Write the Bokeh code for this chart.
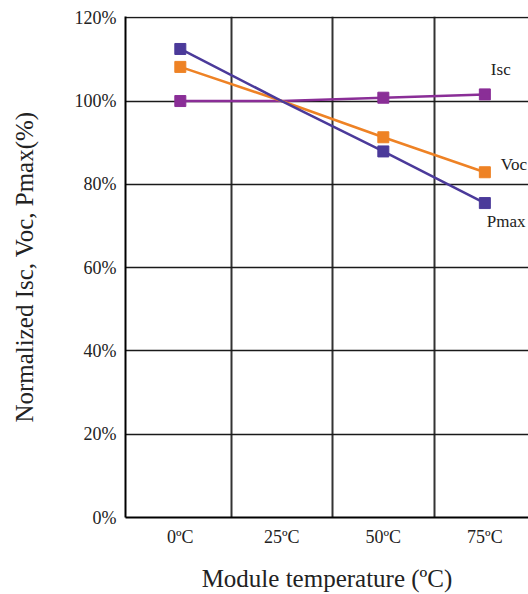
from bokeh.plotting import figure
from bokeh.models import FixedTicker
from bokeh.core.properties import value
from bokeh.embed import file_html
from bokeh.resources import INLINE

categories = ["0ºC", "25ºC", "50ºC", "75ºC"]
isc = [100.0, 100.0, 100.8, 101.6]
voc = [108.2, 100.0, 91.3, 82.9]
pmax = [112.5, 100.0, 87.9, 75.5]
marker_idx = [0, 2, 3]  # no markers drawn at 25ºC
y_ticks = [0, 20, 40, 60, 80, 100, 120]
y_tick_labels = ["0%", "20%", "40%", "60%", "80%", "100%", "120%"]

FONT = "Liberation Serif"
C_PMAX = "#4b3a9a"
C_VOC = "#ee8225"
C_ISC = "#8a2e97"

xs = list(range(len(categories)))

p = figure(width=528, height=594, output_backend="svg", toolbar_location=None,
           x_range=(-0.54, 3.43), y_range=(0, 120.3))
p.min_border_left = 125
p.min_border_right = 0
p.min_border_top = 16
p.min_border_bottom = 77
p.outline_line_color = None
p.background_fill_color = "white"
p.border_fill_color = "white"

# axes
p.xaxis.ticker = FixedTicker(ticks=xs)
p.xaxis.major_label_overrides = {i: c for i, c in enumerate(categories)}
p.yaxis.ticker = FixedTicker(ticks=y_ticks)
p.yaxis.major_label_overrides = {t: l for t, l in zip(y_ticks, y_tick_labels)}
for ax in (p.xaxis[0], p.yaxis[0]):
    ax.axis_line_color = "black"
    ax.axis_line_width = 2
    ax.major_tick_line_color = None
    ax.minor_tick_line_color = None
    ax.major_label_text_font = FONT
    ax.major_label_text_font_size = "18px"
    ax.major_label_text_color = "#222222"
    ax.axis_label_text_font = FONT
    ax.axis_label_text_font_size = "25px"
    ax.axis_label_text_font_style = "normal"
    ax.axis_label_text_color = "#222222"
p.xaxis.axis_label = "Module temperature (ºC)"
p.yaxis.axis_label = "Normalized Isc, Voc, Pmax(%)"
p.xaxis.major_label_standoff = 3
p.xaxis.axis_label_standoff = 15
p.yaxis.major_label_standoff = 3
p.yaxis.axis_label_standoff = 34

# grids
p.xgrid.ticker = FixedTicker(ticks=[0.5, 1.5, 2.5])
p.xgrid.grid_line_color = "#333333"
p.xgrid.grid_line_width = 2
p.ygrid.ticker = FixedTicker(ticks=y_ticks)
p.ygrid.grid_line_color = "#1a1a1a"
p.ygrid.grid_line_width = 1.5

series = [("Isc", isc, C_ISC), ("Voc", voc, C_VOC), ("Pmax", pmax, C_PMAX)]
for name, vals, col in series:
    p.line(xs, vals, line_color=col, line_width=2.5)
for name, vals, col in series:
    mx = [xs[i] for i in marker_idx]
    my = [vals[i] for i in marker_idx]
    p.scatter(mx, my, marker="square", size=11, fill_color=col, line_color=col)

# series labels next to the last points
label_offsets = {"Isc": (6, -25), "Voc": (16, -8), "Pmax": (2, 18)}
for name, vals, col in series:
    dx, dy = label_offsets[name]
    p.text(x=[xs[-1]], y=[vals[-1]], text=[name], x_offset=dx, y_offset=dy,
           text_font=value(FONT), text_font_size="17px", text_color="#222222",
           text_align="left", text_baseline="middle")

open("out.html", "w").write(file_html(p, INLINE))
